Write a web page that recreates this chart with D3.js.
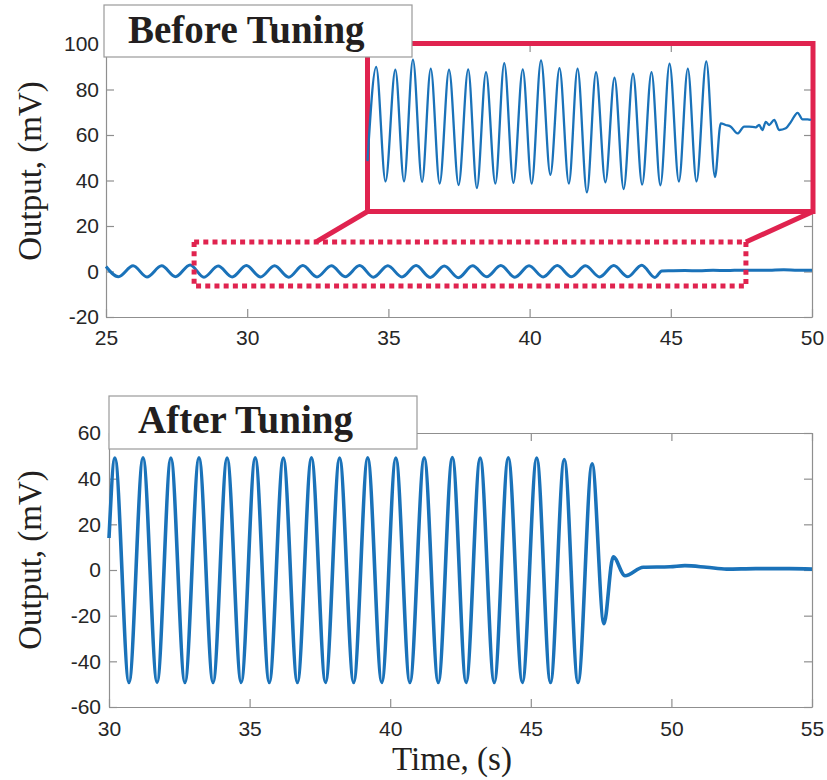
<!DOCTYPE html>
<html>
<head>
<meta charset="utf-8">
<script src="https://cdn.jsdelivr.net/npm/d3@7"></script>
<style>
  body { margin: 0; background: #fff; }
  .axis .domain, .axis line { stroke: #8f8f8f; stroke-width: 1.2; }
  .axis text { font-family: "Liberation Sans", Arial, sans-serif; font-size: 21px; fill: #262626; }
  .serif { font-family: "Liberation Serif", "Times New Roman", serif; fill: #231f20; }
</style>
</head>
<body>
<div id="chart"></div>
<script>
// ---- data ----
// before tuning: extrema of the small oscillation, then the settled tail
const beforeTime = [25.00,
  25.44, 25.96, 26.45, 26.97, 27.46, 27.98, 28.47, 28.97, 29.47, 29.97,
  30.47, 30.97, 31.47, 31.97, 32.47, 32.98, 33.47, 33.98, 34.47, 34.98,
  35.48, 35.98, 36.48, 36.98, 37.48, 37.98, 38.48, 38.98, 39.48, 39.98,
  40.48, 40.98, 41.48, 41.98, 42.48, 42.98, 43.48, 43.97,
  44.44, 44.68, 45.0, 45.5, 46.0, 46.5, 47.0, 47.5, 48.0, 48.5, 49.0, 49.5, 50.0];
const beforeValue = [2.2,
  -2.3, 2.5, -2.4, 2.5, -2.3, 2.9, -2.5, 2.4, -2.4, 2.6,
  -2.4, 2.5, -2.5, 2.6, -2.4, 2.5, -2.3, 2.6, -2.5, 2.5,
  -2.4, 2.6, -2.6, 2.4, -2.7, 2.5, -2.3, 2.6, -2.5, 2.5,
  -2.4, 2.6, -2.3, 2.5, -2.4, 2.6, -2.3, 2.8,
  -2.6, 0.2, 0.3, 0.4, 0.3, 0.5, 0.4, 0.6, 0.5, 0.6, 0.8, 0.6, 0.6];

// magnified inset of the dotted window
const insetTime = [28.00,
  28.39, 28.81, 29.25, 29.64, 30.04, 30.45, 30.84, 31.24, 31.66, 32.09,
  32.52, 32.91, 33.32, 33.74, 34.14, 34.55, 34.97, 35.37, 35.79, 36.21,
  36.62, 37.04, 37.43, 37.85, 38.26, 38.68, 39.09, 39.50, 39.92, 40.33,
  40.75, 41.15, 41.56, 41.98, 42.38, 42.77, 43.21, 43.60,
  43.86, 44.08, 44.31, 44.61, 44.91, 45.13, 45.43, 45.58, 45.73, 45.88,
  46.03, 46.26, 46.48, 46.78, 47.01, 47.31, 47.53, 47.76, 47.91];
const insetValue = [-1.6,
  2.88, -2.57, 2.75, -2.57, 3.23, -2.59, 2.80, -2.67, 2.75, -2.74,
  2.77, -2.88, 2.64, -2.67, 3.07, -2.64, 2.77, -2.67, 3.20, -2.25,
  2.83, -2.67, 2.80, -3.09, 2.63, -2.61, 2.37, -2.93, 2.56, -2.72,
  2.64, -2.75, 3.04, -2.57, 2.80, -2.57, 3.15, -2.36,
  0.20, 0.12, 0.04, -0.28, 0.04, 0.04, 0.01, 0.12, -0.12, 0.27,
  0.12, 0.36, -0.12, -0.04, 0.27, 0.70, 0.39, 0.39, 0.36];

// after tuning: large oscillation, then a quick settle
const afterTime = [30.00,
  30.21, 30.71, 31.21, 31.71, 32.20, 32.70, 33.20, 33.70, 34.20, 34.70,
  35.20, 35.70, 36.20, 36.70, 37.20, 37.70, 38.20, 38.70, 39.20, 39.70,
  40.20, 40.70, 41.21, 41.71, 42.21, 42.70, 43.20, 43.70, 44.20, 44.70,
  45.21, 45.70, 46.19, 46.68, 47.18,
  47.60, 47.93, 48.35, 49.00, 49.95, 50.48, 51.25, 51.96, 53.00, 54.20, 55.00];
const afterValue = [14,
  49.0, -49.3, 49.1, -49.2, 49.0, -49.3, 49.1, -49.3, 49.0, -49.2,
  49.1, -49.3, 49.0, -49.3, 49.1, -49.2, 49.0, -49.3, 49.1, -49.2,
  49.0, -49.3, 49.1, -49.3, 49.2, -49.2, 49.0, -49.3, 49.1, -49.2,
  49.0, -49.3, 48.4, -49.3, 46.5,
  -23.5, 5.8, -2.5, 1.2, 1.4, 1.9, 1.2, 0.4, 0.6, 0.6, 0.4];

const beforeXTicks = [25, 30, 35, 40, 45, 50];
const beforeYTicks = [-20, 0, 20, 40, 60, 80, 100];
const afterXTicks = [30, 35, 40, 45, 50, 55];
const afterYTicks = [-60, -40, -20, 0, 20, 40, 60];
const zoomWindowTime = [28.12, 47.66];
const zoomWindowValue = [-6.4, 13];

const blue = "#1a72b9",
    red = "#e0234f";

let svg = d3.select("#chart")
    .append("svg")
    .attr("width", 827)
    .attr("height", 780);

function drawAxes(x, y, xTicks, yTicks, padX, padY) {
    let x0 = x.range()[0], x1 = x.range()[1],
        y0 = y.range()[0], y1 = y.range()[1];
    let fmt = d => String(d);

    svg.append("g").attr("class", "axis")
        .attr("transform", "translate(0," + y0 + ")")
        .call(d3.axisBottom(x).tickValues(xTicks).tickFormat(fmt)
            .tickSizeInner(-8).tickSizeOuter(0).tickPadding(padX));
    svg.append("g").attr("class", "axis")
        .attr("transform", "translate(0," + y1 + ")")
        .call(d3.axisTop(x).tickValues(xTicks).tickFormat("")
            .tickSizeInner(-8).tickSizeOuter(0));
    svg.append("g").attr("class", "axis")
        .attr("transform", "translate(" + x0 + ",0)")
        .call(d3.axisLeft(y).tickValues(yTicks).tickFormat(fmt)
            .tickSizeInner(-8).tickSizeOuter(0).tickPadding(padY));
    svg.append("g").attr("class", "axis")
        .attr("transform", "translate(" + x1 + ",0)")
        .call(d3.axisRight(y).tickValues(yTicks).tickFormat("")
            .tickSizeInner(-8).tickSizeOuter(0));
}

function drawSeries(x, y, ts, vs, width) {
    let line = d3.line()
        .x(i => x(ts[i]))
        .y(i => y(vs[i]))
        .curve(d3.curveMonotoneX);
    svg.append("path")
        .attr("d", line(d3.range(ts.length)))
        .attr("fill", "none")
        .attr("stroke", blue)
        .attr("stroke-width", width)
        .attr("stroke-linejoin", "round");
}

function titleBox(x, y, w, h, label, tx, ty) {
    svg.append("rect")
        .attr("x", x).attr("y", y).attr("width", w).attr("height", h)
        .attr("fill", "#fff").attr("stroke", "#9a9a9a").attr("stroke-width", 1.2);
    svg.append("text")
        .attr("class", "serif")
        .attr("x", tx).attr("y", ty)
        .attr("font-size", 39).attr("font-weight", "bold")
        .text(label);
}

function yLabel(cy) {
    svg.append("text")
        .attr("class", "serif")
        .attr("transform", "translate(41," + cy + ") rotate(-90)")
        .attr("text-anchor", "middle")
        .attr("font-size", 33)
        .text("Output, (mV)");
}

// ---- top panel: before tuning ----
let xTop = d3.scaleLinear().domain([25, 50]).range([106, 812]);
let yTop = d3.scaleLinear().domain([-20, 100]).range([317, 44]);
drawAxes(xTop, yTop, beforeXTicks, beforeYTicks, 13, 7);
drawSeries(xTop, yTop, beforeTime, beforeValue, 3);
yLabel(171);

// dotted window around the oscillation
let zx0 = xTop(zoomWindowTime[0]), zx1 = xTop(zoomWindowTime[1]),
    zy0 = yTop(zoomWindowValue[1]), zy1 = yTop(zoomWindowValue[0]);
svg.append("rect")
    .attr("x", zx0).attr("y", zy0)
    .attr("width", zx1 - zx0).attr("height", zy1 - zy0)
    .attr("fill", "none")
    .attr("stroke", red).attr("stroke-width", 5)
    .attr("stroke-dasharray", "5,4.2");

// magnified inset
let xInset = d3.scaleLinear().domain([28, 48]).range([367.5, 813]);
let yInset = d3.scaleLinear().domain([-4, 4]).range([211.5, 43.5]);
svg.append("line")
    .attr("x1", 367.5).attr("y1", 211.5).attr("x2", zx0 + 122).attr("y2", zy0)
    .attr("stroke", red).attr("stroke-width", 5);
svg.append("line")
    .attr("x1", 813).attr("y1", 211.5).attr("x2", zx1).attr("y2", zy0)
    .attr("stroke", red).attr("stroke-width", 5);
svg.append("rect")
    .attr("x", 367.5).attr("y", 43.5).attr("width", 813 - 367.5).attr("height", 211.5 - 43.5)
    .attr("fill", "none").attr("stroke", red).attr("stroke-width", 5);
drawSeries(xInset, yInset, insetTime, insetValue, 2.3);

titleBox(104, 5, 308, 52, "Before Tuning", 128, 43);

// ---- bottom panel: after tuning ----
let xBot = d3.scaleLinear().domain([30, 55]).range([109, 812]);
let yBot = d3.scaleLinear().domain([-60, 60]).range([707, 433]);
drawAxes(xBot, yBot, afterXTicks, afterYTicks, 14, 8);
drawSeries(xBot, yBot, afterTime, afterValue, 3.6);
yLabel(560);

titleBox(109, 396, 308, 53, "After Tuning", 138, 433);

svg.append("text")
    .attr("class", "serif")
    .attr("x", 452).attr("y", 770)
    .attr("text-anchor", "middle")
    .attr("font-size", 33)
    .text("Time, (s)");
</script>
</body>
</html>
